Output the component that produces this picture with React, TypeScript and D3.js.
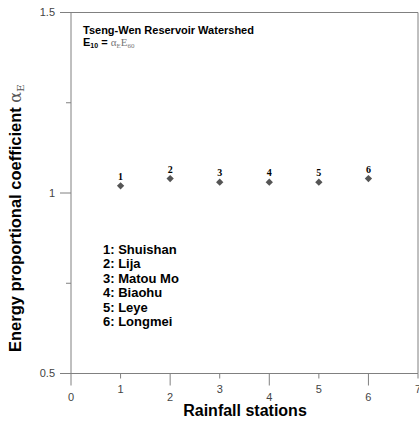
import React from "react";
import * as d3 from "d3";

const stations = [1, 2, 3, 4, 5, 6];
const stationLabels = ["1", "2", "3", "4", "5", "6"];
const alphaValues = [1.02, 1.04, 1.03, 1.03, 1.03, 1.04];
const xTicks = [0, 1, 2, 3, 4, 5, 6, 7];
const yMajorTicks = [0.5, 1, 1.5];
const yMinorTicks = [0.75, 1.25];
const yTickLabels = ["0.5", "1", "1.5"];
const legendLines = ["1: Shuishan", "2: Lija", "3: Matou Mo", "4: Biaohu", "5: Leye", "6: Longmei"];

const W = 419;
const H = 423;
const left = 71;
const right = 418;
const top = 12.5;
const bottom = 373.5;

export default function App() {
  const x = d3.scaleLinear().domain([0, 7]).range([left, right]);
  const y = d3.scaleLinear().domain([0.5, 1.5]).range([bottom, top]);
  const axisColor = "#808080";
  const tickText = "#444";
  const diamond = d3.symbol().type(d3.symbolDiamond2).size(34)() || "";

  return (
    <svg
      width={W}
      height={H}
      style={{ position: "absolute", left: 0, top: 0, background: "#fff" }}
      fontFamily="Arial, 'Liberation Sans', sans-serif"
    >
      {/* frame */}
      <line x1={left} y1={top} x2={right} y2={top} stroke={axisColor} strokeWidth={1} />
      <line x1={right} y1={top} x2={right} y2={bottom} stroke={axisColor} strokeWidth={1} />
      <line x1={left} y1={top} x2={left} y2={bottom} stroke={axisColor} strokeWidth={1} />
      <line x1={left} y1={bottom} x2={right} y2={bottom} stroke={axisColor} strokeWidth={1} />

      {/* y ticks */}
      {yMajorTicks.map((v, i) => (
        <g key={"ym" + v}>
          <line x1={left - 11} x2={left} y1={y(v)} y2={y(v)} stroke={axisColor} />
          <text x={left - 16} y={y(v)} dy="0.35em" textAnchor="end" fontSize={11} fill={tickText}>
            {yTickLabels[i]}
          </text>
        </g>
      ))}
      {yMinorTicks.map((v) => (
        <line key={"yn" + v} x1={left - 5} x2={left} y1={y(v)} y2={y(v)} stroke={axisColor} />
      ))}

      {/* x ticks */}
      {xTicks.map((v) => {
        const major = v % 2 === 0;
        return (
          <g key={"x" + v}>
            <line x1={x(v)} x2={x(v)} y1={bottom} y2={bottom + (major ? 12 : 5)} stroke={axisColor} />
            <text
              x={x(v)}
              y={major ? 401 : 393}
              textAnchor="middle"
              fontSize={11}
              fill={tickText}
            >
              {v}
            </text>
          </g>
        );
      })}

      {/* axis titles */}
      <text x={245} y={416} textAnchor="middle" fontSize={16} fontWeight="bold" fill="#000">
        Rainfall stations
      </text>
      <text
        transform={`translate(21,352) rotate(-90)`}
        textAnchor="start"
        fontSize={16.5}
        fill="#000"
      >
        <tspan fontWeight="bold">Energy proportional coefficient </tspan>
        <tspan fontFamily="'DejaVu Serif', 'Liberation Serif', serif" fontSize={16} fill="#555">α</tspan>
        <tspan fontFamily="'DejaVu Serif', 'Liberation Serif', serif" fontSize={10} fill="#555" dy={3}>E</tspan>
      </text>

      {/* annotation */}
      <text x={83} y={34} fontSize={11} fontWeight="bold" fill="#000">
        Tseng-Wen Reservoir Watershed
      </text>
      <text x={83} y={46} fontSize={11} fill="#000">
        <tspan fontWeight="bold">E</tspan>
        <tspan fontWeight="bold" fontSize={7} dy={2}>10</tspan>
        <tspan fontWeight="bold" dy={-2}> = </tspan>
        <tspan fontFamily="'Liberation Serif', serif" fill="#777">α</tspan>
        <tspan fontFamily="'Liberation Serif', serif" fill="#777" fontSize={7} dy={2}>E</tspan>
        <tspan fontFamily="'Liberation Serif', serif" fill="#777" dy={-2}>E</tspan>
        <tspan fontFamily="'Liberation Serif', serif" fill="#777" fontSize={7} dy={2}>60</tspan>
      </text>

      {/* points */}
      {stations.map((s, i) => (
        <g key={"p" + s}>
          <path d={diamond} transform={`translate(${x(s)},${y(alphaValues[i])})`} fill="#555" />
          <text
            x={x(s)}
            y={y(alphaValues[i]) - 6}
            textAnchor="middle"
            fontSize={10}
            fontWeight="bold"
            fontFamily="'Liberation Serif', 'Times New Roman', serif"
            fill="#000"
          >
            {stationLabels[i]}
          </text>
        </g>
      ))}

      {/* legend text */}
      {legendLines.map((t, i) => (
        <text key={t} x={103} y={254 + i * 14.4} fontSize={13} fontWeight="bold" fill="#000">
          {t}
        </text>
      ))}
    </svg>
  );
}
